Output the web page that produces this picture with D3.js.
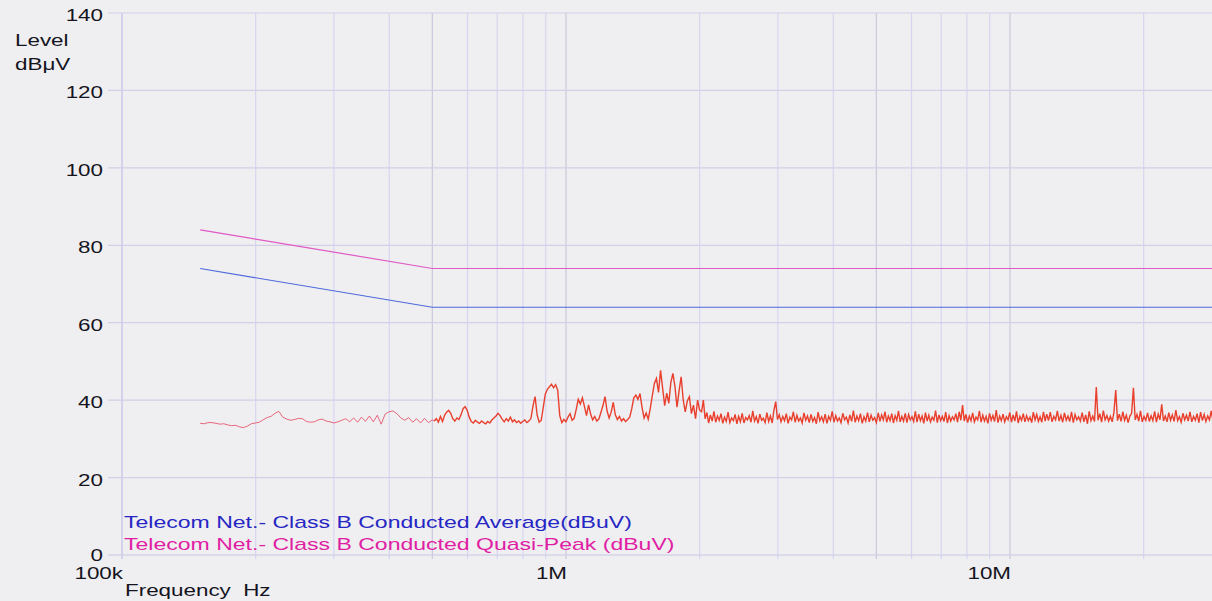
<!DOCTYPE html>
<html>
<head>
<meta charset="utf-8">
<script src="https://cdn.jsdelivr.net/npm/d3@7"></script>
<style>
  html, body { margin: 0; padding: 0; background: #efeef0; }
  svg { display: block; }
  text { font-family: "Liberation Sans", Arial, sans-serif; white-space: pre; }
</style>
</head>
<body>
<div id="chart"></div>
<script>
// Level axis ticks (dBuV) and frequency labels
const levelTicks = [0, 20, 40, 60, 80, 100, 120, 140];
const freqLabels = [
  { f: 1e5, text: "100k" },
  { f: 1e6, text: "1M" },
  { f: 1e7, text: "10M" }
];

// Limit lines (frequency Hz, dBuV)
const limitQP = [[150e3, 84], [500e3, 74], [30e6, 74]];
const limitAV = [[150e3, 74], [500e3, 64], [30e6, 64]];

const trace150k = [
  34.0, 33.9, 34.2, 34.2, 34.0, 33.8, 33.9, 33.6, 33.4, 33.5,
  33.1, 32.9, 33.3, 33.9, 34.1, 34.3, 34.9, 35.5, 35.8, 36.6,
  37.1, 35.6, 35.1, 34.8, 35.0, 35.3, 35.2, 34.5, 34.3, 34.4,
  34.9, 35.1, 34.6, 34.4, 34.1, 34.4, 34.8, 35.2, 34.4, 35.4,
  34.3, 35.6, 34.5, 35.9, 34.4, 36.1, 33.8, 36.4, 37.0, 37.2,
  36.5, 35.4, 34.8, 35.5, 34.3, 35.2, 34.1, 35.3, 34.2, 34.9
];
const trace500k = [
  34.6, 35.2, 34.3, 35.8, 34.5, 36.1, 36.9, 37.4, 36.6, 35.2,
  34.6, 35.4, 35.0, 36.2, 37.8, 38.3, 37.4, 35.6, 34.5, 34.1,
  34.8, 34.3, 34.0, 34.6, 34.2, 33.9, 34.5, 34.1, 34.9, 35.4,
  35.9, 36.6, 36.0, 35.1, 34.4, 35.2, 34.6, 35.6, 34.4, 34.9,
  34.2, 34.6, 34.0, 34.5, 34.9, 34.2, 34.6, 35.3, 38.5, 40.9,
  36.2, 34.3, 34.8, 38.2, 41.6, 42.8, 43.5, 44.1, 43.2, 44.0,
  42.6, 36.0, 34.2, 35.0, 34.4, 35.6, 36.5, 34.8, 35.3, 37.6,
  40.2, 39.0, 40.6, 38.4, 36.0, 38.8, 36.4, 34.9, 35.8, 34.6,
  35.1, 36.8, 38.6, 40.9, 37.2, 35.4, 36.9, 39.4, 36.2, 35.0,
  35.8, 34.6, 35.2, 34.5, 35.0, 35.6, 37.8, 40.6, 41.3, 40.2,
  41.7, 38.1, 35.4, 36.7, 35.1, 37.9, 41.2, 44.3, 45.6, 42.0,
  47.7, 43.1, 38.6, 41.8, 39.2, 44.6, 46.9, 43.5, 38.2, 42.4,
  46.0, 40.1, 37.0, 39.8, 40.9, 36.5, 38.7, 35.2, 40.0, 37.4
];
const trace2M = [
  37.0, 40.0, 35.2, 36.8, 34.1, 36.2, 34.6, 37.1, 34.3, 35.9,
  34.8, 36.5, 34.0, 35.6, 34.5, 36.9, 34.2, 35.4, 34.7, 36.3,
  33.9, 35.8, 34.4, 36.6, 34.1, 35.5, 34.9, 36.0, 34.3, 37.2,
  34.6, 35.7, 34.0, 36.4, 34.8, 35.3, 34.2, 36.8, 34.5, 35.9,
  34.1, 37.4, 39.6, 35.0, 36.2, 34.4, 35.8, 34.7, 36.5, 34.0,
  35.6, 34.9, 37.0, 34.3, 36.1, 34.6, 35.4, 34.1, 36.7, 34.8,
  35.9, 34.2, 36.3, 34.5, 35.5, 33.9, 36.9, 34.7, 35.7, 34.4,
  36.4, 34.0, 35.8, 34.8, 37.1, 34.3, 36.0, 34.6, 35.4, 34.2,
  36.6, 34.9, 35.6, 34.1, 36.2, 34.5, 37.3, 34.3, 35.9, 34.7,
  36.5, 34.0, 35.7, 34.6, 36.8, 34.4, 36.1, 34.8, 35.5, 34.2
];
const trace5M = [
  36.7, 34.5, 36.2, 34.9, 37.0, 34.3, 35.9, 34.7, 36.5, 34.1,
  36.0, 34.8, 37.2, 34.4, 35.8, 34.6, 36.6, 34.2, 36.3, 34.9,
  35.7, 34.5, 37.1, 34.3, 36.4, 34.7, 35.9, 34.0, 36.8, 34.6,
  36.1, 34.4, 35.6, 34.8, 37.3, 34.2, 36.2, 34.7, 35.8, 34.5,
  36.9, 34.1, 36.0, 34.6, 35.7, 34.9, 36.5, 34.3, 37.0, 34.8,
  38.7, 34.6, 36.3, 34.2, 35.9, 34.7, 36.7, 34.4, 35.6, 34.9,
  37.2, 34.3, 36.1, 34.6, 35.8, 34.0, 36.6, 34.8, 36.0, 34.5,
  37.4, 34.2, 35.9, 34.7, 36.4, 34.4, 35.7, 34.9, 36.8, 34.3,
  36.2, 34.6, 37.1, 34.1, 35.8, 34.8, 36.5, 34.4, 36.0, 34.7,
  35.6, 34.2, 36.9, 34.9, 36.3, 34.5, 35.7, 34.3, 37.0, 34.6
];
const trace12M = [
  36.4, 34.7, 36.9, 34.4, 35.8, 34.9, 37.2, 34.6, 36.1, 34.3,
  36.7, 34.8, 35.9, 34.5, 37.0, 34.2, 36.3, 34.9, 35.7, 34.6,
  36.8, 34.4, 36.2, 33.9, 37.1, 34.7, 35.9, 34.5, 43.4, 34.8,
  36.5, 34.3, 37.3, 34.9, 36.0, 34.6, 35.8, 34.4, 36.9, 42.6,
  34.7, 36.4, 34.5, 37.0, 34.8, 36.1, 34.2, 35.9, 36.6, 43.2,
  34.9, 36.3, 34.6, 37.2, 34.4, 35.8, 34.8, 36.7, 34.5, 36.0,
  34.7, 37.1, 34.3, 36.4, 34.9, 38.9, 34.6, 35.9, 34.4, 36.8,
  34.8, 36.2, 34.5, 37.4, 34.7, 35.7, 34.3, 36.6, 34.9, 36.1,
  34.6, 37.0, 34.4, 35.8, 34.8, 36.5, 34.2, 36.9, 34.7, 36.3,
  34.5, 35.9, 34.9, 37.2, 34.6, 36.0, 34.8, 36.7, 34.4, 36.2
];

const legendItems = [
  { text: "Telecom Net.- Class B Conducted Average(dBuV)", color: "#2626c4" },
  { text: "Telecom Net.- Class B Conducted Quasi-Peak (dBuV)", color: "#e01ea4" }
];

// the receiver steps log-spaced between start and stop of each segment
function sweep(f0, f1, levels) {
  return levels.map((v, i) => [f0 * Math.pow(f1 / f0, i / (levels.length - 1)), v]);
}

const traceLow = sweep(150e3, 500e3, trace150k);
const traceHigh = [].concat(
  sweep(505e3, 2e6, trace500k),
  sweep(2.02e6, 5e6, trace2M),
  sweep(5.05e6, 12e6, trace5M),
  sweep(12.1e6, 30e6, trace12M)
);

const width = 1212, height = 601;
const plotLeft = 122, plotTop = 13, plotBottom = 555;
const decade = 444;

const x = d3.scaleLog()
  .domain([1e5, 3e7])
  .range([plotLeft, plotLeft + decade * Math.log10(300)]);
const y = d3.scaleLinear()
  .domain([0, 140])
  .range([plotBottom, plotTop]);

const svg = d3.select("#chart").append("svg")
  .attr("width", width)
  .attr("height", height);

svg.append("rect")
  .attr("width", width)
  .attr("height", height)
  .attr("fill", "#efeef0");

// text in the scan is stretched sideways
function label(px, py, str, anchor, color, sx) {
  return svg.append("text")
    .attr("transform", `translate(${px},${py}) scale(${sx || 1.4},1)`)
    .attr("text-anchor", anchor)
    .attr("font-size", 16)
    .attr("fill", color || "#14141e")
    .text(str);
}

// vertical grid
const grid = svg.append("g");
x.ticks().forEach(f => {
  const lead = Math.round(f / Math.pow(10, Math.floor(Math.log10(f) + 1e-9)));
  grid.append("line")
    .attr("x1", x(f)).attr("x2", x(f))
    .attr("y1", plotTop).attr("y2", plotBottom + 4)
    .attr("stroke", (lead === 1 || lead === 5) ? "#c9c8dc" : "#d6d6f2")
    .attr("stroke-width", 1.2);
});

// horizontal grid
levelTicks.forEach(v => {
  grid.append("line")
    .attr("x1", plotLeft - 14).attr("x2", width)
    .attr("y1", y(v)).attr("y2", y(v))
    .attr("stroke", v === 0 ? "#c9c8e4" : "#d3d0e6")
    .attr("stroke-width", 1.2);
  label(plotLeft - 19, y(v) + (v === 0 ? 6 : 8), String(v), "end");
});

// left frame
grid.append("line")
  .attr("x1", plotLeft).attr("x2", plotLeft)
  .attr("y1", plotTop).attr("y2", plotBottom + 4)
  .attr("stroke", "#cfcfee")
  .attr("stroke-width", 1.2);

// limit lines
const line = d3.line().x(d => x(d[0])).y(d => y(d[1]));

svg.append("path")
  .datum(limitQP)
  .attr("d", line)
  .attr("fill", "none")
  .attr("stroke", "#e058c4")
  .attr("stroke-width", 1.2);

svg.append("path")
  .datum(limitAV)
  .attr("d", line)
  .attr("fill", "none")
  .attr("stroke", "#4c68dc")
  .attr("stroke-width", 1.2);

// measured trace: thin and pale below 500k, dense and saturated above
svg.append("path")
  .datum(traceLow.concat([traceHigh[0]]))
  .attr("d", line)
  .attr("fill", "none")
  .attr("stroke", "#e6506a")
  .attr("stroke-opacity", 0.85)
  .attr("stroke-width", 1);

svg.append("path")
  .datum(traceHigh)
  .attr("d", line)
  .attr("fill", "none")
  .attr("stroke", "#e82c18")
  .attr("stroke-opacity", 0.9)
  .attr("stroke-width", 1.4);

// axis titles
label(15, 46, "Level", "start");
label(15, 70, "dBμV", "start");

freqLabels.forEach(d => label(x(d.f) + 1, 579, d.text, "end"));
label(125, 596, "Frequency  Hz", "start");

// legend
legendItems.forEach((d, i) => {
  label(124, 528 + i * 22, d.text, "start", d.color, 1.44);
});
</script>
</body>
</html>
